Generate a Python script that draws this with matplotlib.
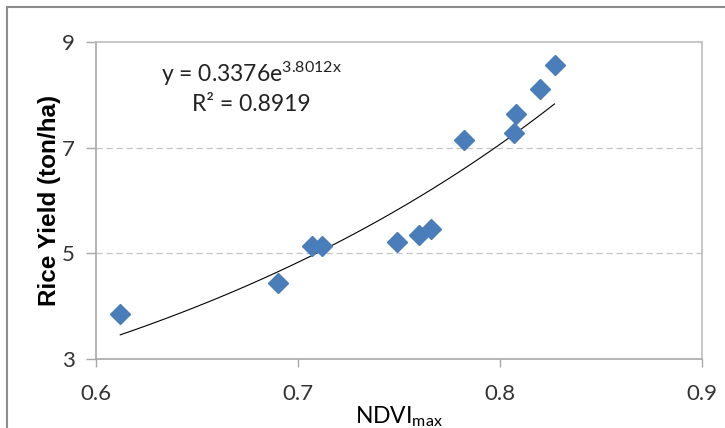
import numpy as np
import matplotlib
matplotlib.use("Agg")
import matplotlib.pyplot as plt
from matplotlib.lines import Line2D

plt.rcParams['font.family'] = ['Lato', 'DejaVu Sans']
plt.rcParams['mathtext.fontset'] = 'custom'
plt.rcParams['mathtext.rm'] = 'Lato'
plt.rcParams['mathtext.it'] = 'Lato'

# NDVI max vs rice yield
ndvi = [0.612, 0.690, 0.707, 0.712, 0.749, 0.760, 0.766, 0.782, 0.807, 0.808, 0.820, 0.827]
yield_t = [3.85, 4.43, 5.14, 5.13, 5.21, 5.34, 5.47, 7.14, 7.27, 7.64, 8.11, 8.56]

# exponential trend line y = a * exp(b x)
coef_a = 0.3376
coef_b = 3.8012
r2 = 0.8919

fig = plt.figure(figsize=(7.25, 4.28), dpi=100)
ax = fig.add_axes([96 / 725, 1 - 359 / 428, 606 / 725, 317 / 428])

ax.set_xlim(0.6, 0.9)
ax.set_ylim(3, 9)
ax.set_xticks([0.6, 0.7, 0.8, 0.9])
ax.set_yticks([3, 5, 7, 9])
ax.set_xticklabels(["0.6", "0.7", "0.8", "0.9"])
ax.set_yticklabels(["3", "5", "7", "9"])

for y in [5, 7]:
    ax.axhline(y, color="#c4c4c4", lw=0.9, ls=(0, (5, 3)), zorder=0)

xs = np.linspace(min(ndvi), max(ndvi), 100)
ax.plot(xs, coef_a * np.exp(coef_b * xs), color="black", lw=0.8, zorder=2)
ax.plot(ndvi, yield_t, ls="none", marker="D", markersize=10.5,
        color="#4a7ebb", markeredgecolor="#4a7ebb", zorder=3)

for s in ax.spines.values():
    s.set_color("#bdbdbd")
    s.set_linewidth(1.2)
ax.spines["left"].set_color("#a8a8a8")
ax.spines["bottom"].set_color("#a8a8a8")

ax.tick_params(axis="both", direction="out", length=7, width=1, color="#a8a8a8",
               labelsize=16, labelcolor="#333333")
ax.tick_params(axis="y", pad=8)
ax.tick_params(axis="x", pad=12, length=6)

ax.set_ylabel("Rice Yield (ton/ha)", family="Liberation Sans", fontweight="bold",
              fontsize=17.5, color="black", labelpad=1)
ax.set_xlabel(r"NDVI$_{\mathrm{max}}$", fontsize=16.5, color="black", labelpad=0)

ax.text(0.107, 0.899, "y = 0.3376e$^{\\mathrm{3.8012x}}$", transform=ax.transAxes,
        fontsize=16.5, color="#222222", ha="left", va="center")
ax.text(0.158, 0.804, f"R² = {r2}", transform=ax.transAxes,
        fontsize=16.5, color="#222222", ha="left", va="center")

# outer frame (top and left visible)
fig.add_artist(Line2D([7 / 725, 7 / 725], [0, 1 - 7 / 428], transform=fig.transFigure,
                      color="#8c8c8c", lw=1.5))
fig.add_artist(Line2D([7 / 725, 1], [1 - 7 / 428, 1 - 7 / 428], transform=fig.transFigure,
                      color="#8c8c8c", lw=1.5))

fig.savefig("out.png", dpi=100)
